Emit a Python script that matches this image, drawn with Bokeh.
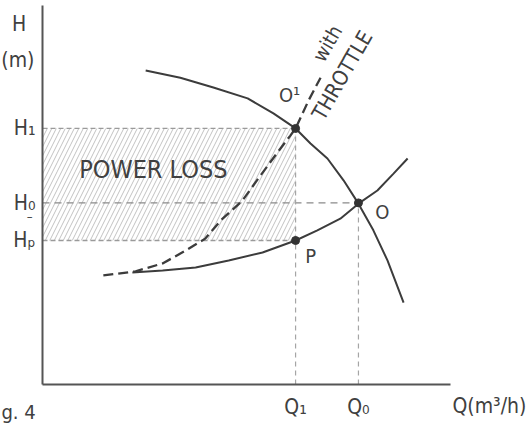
from bokeh.plotting import figure
from bokeh.models import Range1d, FixedTicker, Label, LinearAxis
from bokeh.embed import file_html
from bokeh.resources import INLINE

# ---- data (Q in arbitrary flow units, H in arbitrary head units) ----
pump_q = [2.56, 3.42, 4.24, 5.09, 5.73, 6.28, 6.65, 7.07, 7.47, 7.84, 8.21, 8.56, 8.96]
pump_h = [8.35, 8.16, 7.90, 7.61, 7.21, 6.81, 6.41, 6.01, 5.43, 4.81, 4.10, 3.30, 2.18]

sys_q = [2.23, 2.98, 3.80, 4.62, 5.46, 6.28, 6.82, 7.39, 7.84, 8.31, 8.71, 9.06]
sys_h = [2.98, 3.03, 3.11, 3.30, 3.51, 3.83, 4.10, 4.41, 4.81, 5.16, 5.61, 6.01]

thr_q = [1.51, 2.31, 2.98, 3.55, 4.04, 4.42, 4.96, 5.41, 5.83, 6.15, 6.28, 6.60, 6.90]
thr_h = [2.90, 3.01, 3.22, 3.56, 3.88, 4.36, 4.89, 5.56, 6.17, 6.62, 6.81, 7.55, 8.16]

Q1, Q0 = 6.28, 7.84
H1, H0, Hp = 6.81, 4.83, 3.83

x_ticks = [Q1, Q0]
x_tick_labels = ["Q₁", "Q₀"]
y_ticks = [Hp, H0, H1]
y_tick_labels = ["Hₚ", "H₀", "H₁"]

FONT = "'DejaVu Sans Condensed', 'Roboto Condensed', Roboto, sans-serif"
TXT = "#404040"
LINE = "#3c3c3c"

p = figure(width=529, height=425, output_backend="svg", toolbar_location=None,
           x_range=Range1d(-1.0422, 12.0844), y_range=Range1d(-1.0904, 10.2128),
           x_axis_location=None, y_axis_location=None,
           min_border_left=0, min_border_right=0, min_border_top=0, min_border_bottom=0)
p.outline_line_color = None
p.grid.visible = False
p.background_fill_color = "white"

xax = LinearAxis(fixed_location=0, bounds=(0, 10.12))
yax = LinearAxis(fixed_location=0, bounds=(0, 10.08))
for ax in (xax, yax):
    ax.axis_line_color = "#555555"
    ax.axis_line_width = 2
    ax.major_tick_in = 0
    ax.major_tick_out = 0
    ax.minor_tick_in = 0
    ax.minor_tick_out = 0
    ax.major_label_text_font = FONT
    ax.major_label_text_font_size = "21px"
    ax.major_label_text_color = TXT

xax.ticker = FixedTicker(ticks=x_ticks)
xax.major_label_overrides = dict(zip(x_ticks, x_tick_labels))
xax.major_label_standoff = 10
yax.ticker = FixedTicker(ticks=y_ticks)
yax.major_label_overrides = dict(zip(y_ticks, y_tick_labels))
yax.major_label_standoff = 7
p.add_layout(xax, "below")
p.add_layout(yax, "left")

# hatched power loss area
p.quad(left=[0], right=[Q1], bottom=[Hp], top=[H1], fill_alpha=0, line_color=None,
       hatch_pattern="/", hatch_color="#c2c2c2", hatch_scale=9, hatch_weight=1)

# dashed guide lines
p.segment(x0=[0, 0], y0=[H1, Hp], x1=[Q1, Q1], y1=[H1, Hp],
          line_color="#9a9a9a", line_width=1.3, line_dash="5 3")
p.segment(x0=[0], y0=[H0], x1=[Q0], y1=[H0],
          line_color="#8a8a8a", line_width=1.3, line_dash="7 5")
p.segment(x0=[Q1, Q0], y0=[0, 0], x1=[Q1, Q0], y1=[H1, H0],
          line_color="#a5a5a5", line_width=1.2, line_dash="5 4")

# curves
p.line(pump_q, pump_h, line_color=LINE, line_width=2)
p.line(sys_q, sys_h, line_color=LINE, line_width=2)
p.line(thr_q, thr_h, line_color=LINE, line_width=2.3, line_dash="10 5")

# operating points
p.scatter([Q1, Q0, Q1], [H1, H0, Hp], size=8, color="#333333")

def lab(x, y, text, size, xo=0, yo=0, angle=0, align="center"):
    p.add_layout(Label(x=x, y=y, x_offset=xo, y_offset=yo, text=text,
                       text_font=FONT, text_font_size=size, text_color=TXT,
                       text_align=align, text_baseline="middle",
                       angle=angle, angle_units="deg"))

lab(Q1, H1, "O¹", "20px", xo=-6, yo=33)
lab(Q0, H0, "O", "20px", xo=24, yo=-9)
lab(Q1, Hp, "P", "20px", xo=15, yo=-16)
lab(2.75, 5.72, "POWER LOSS", "25px")
lab(7.07, 9.07, "with", "20px", angle=60)
lab(7.44, 8.22, "THROTTLE", "21px", angle=60)
lab(-0.58, 9.59, "H", "21px")
lab(-0.61, 8.62, "(m)", "21px")
lab(-0.32, 4.48, "–", "13px")
lab(11.09, -0.585, "Q(m³/h)", "21px")
lab(-1.02, -0.72, "g. 4", "20px", align="left")

open("out.html", "w").write(file_html(p, INLINE))
